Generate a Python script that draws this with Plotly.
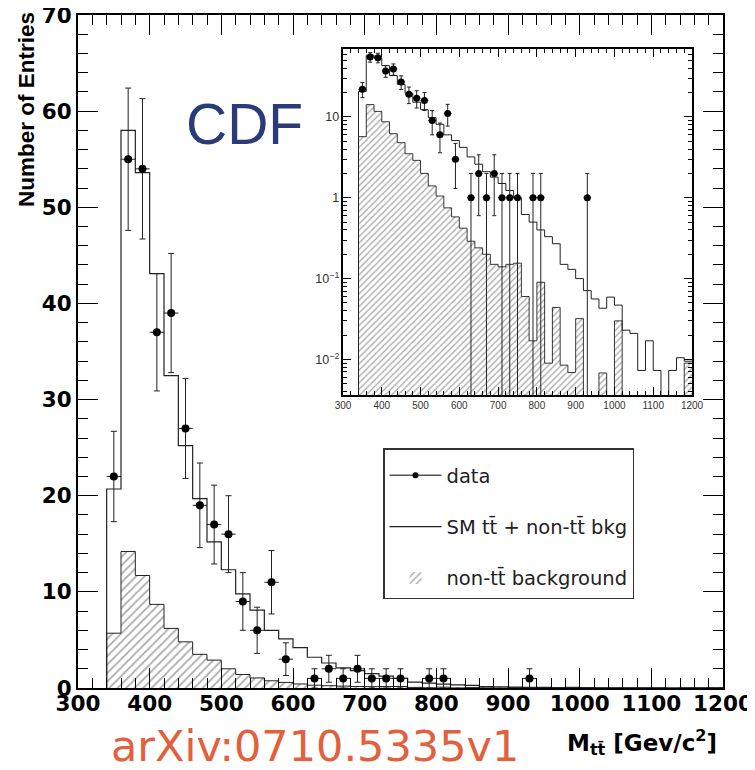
import plotly.graph_objects as go

# ---------------- data ----------------
BIN_W = 20
bin_lo_edges = list(range(340, 1200, BIN_W))  # 43 bins, 340..1200 GeV

sm_total = [20.7, 58.0, 53.6, 43.1, 32.5, 25.2, 19.7, 15.2, 12.3, 9.8,
            8.1, 6.0, 5.1, 4.2, 3.2, 2.6, 2.1, 1.8, 1.5, 1.23,
            1.0, 0.62, 0.5, 0.4, 0.33, 0.27, 0.15, 0.13, 0.1, 0.071,
            0.056, 0.043, 0.059, 0.047, 0.023, 0.021, 0.0073, 0.017, 0.0073, 0.0,
            0.0073, 0.0105, 0.0095]

bkg = [5.7, 14.2, 11.7, 8.7, 6.2, 4.8, 3.5, 2.9, 2.0, 1.4,
       1.05, 0.75, 0.58, 0.42, 0.29, 0.24, 0.2, 0.15, 0.14, 0.15,
       0.155, 0.06, 0.017, 0.09, 0.009, 0.044, 0.0085, 0.0069, 0.032, 0.0,
       0.0, 0.0068, 0.0, 0.030, 0.0, 0.0, 0.0, 0.0, 0.0, 0.0,
       0.0, 0.0, 0.009]

data_x = [350, 370, 390, 410, 430, 450, 470, 490, 510, 530, 550, 570, 590,
          630, 650, 670, 690, 710, 730, 750, 790, 810, 930]
data_n = [22, 55, 54, 37, 39, 27, 19, 17, 16, 9, 6, 11, 3,
          1, 2, 1, 2, 1, 1, 1, 1, 1, 1]
data_err = [4.7, 7.4, 7.3, 6.1, 6.2, 5.2, 4.4, 4.1, 4.0, 3.0, 2.4, 3.3, 1.7,
            1.0, 1.4, 1.0, 1.4, 1.0, 1.0, 1.0, 1.0, 1.0, 1.0]

x_ticks = [300, 400, 500, 600, 700, 800, 900, 1000, 1100, 1200]
y_ticks = [0, 10, 20, 30, 40, 50, 60, 70]

# ---------------- helpers ----------------
centers = [e + BIN_W / 2 for e in bin_lo_edges]
edges = bin_lo_edges + [bin_lo_edges[-1] + BIN_W]

def step_xy(vals, floor=0.0):
    v = [a if a > 0 else floor for a in vals]
    return [edges[0]] + edges, [floor] + v + [v[-1]]

hatch = dict(shape='/', fgcolor='#555555', bgcolor='white', size=6, solidity=0.3)

fig = go.Figure()

# ---------------- main plot ----------------
fig.add_trace(go.Bar(x=centers, y=bkg, width=BIN_W,
                     marker=dict(color='white', line=dict(width=0), pattern=hatch),
                     name='non-tt\u0304 background', legendgroup='c', legendrank=3,
                     xaxis='x', yaxis='y'))
sx, sy = step_xy(bkg)
fig.add_trace(go.Scatter(x=sx, y=sy, mode='lines', line=dict(color='#222', width=1, shape='hv'),
                         showlegend=False, hoverinfo='skip', xaxis='x', yaxis='y'))
sx, sy = step_xy(sm_total)
fig.add_trace(go.Scatter(x=sx, y=sy, mode='lines', line=dict(color='#222', width=1.2, shape='hv'),
                         name='SM tt\u0304 + non-tt\u0304 bkg', legendgroup='b', legendrank=2,
                         xaxis='x', yaxis='y'))
fig.add_trace(go.Scatter(x=data_x, y=data_n, mode='markers',
                         marker=dict(color='black', size=8),
                         error_y=dict(type='data', array=data_err, color='#222', thickness=1, width=3),
                         error_x=dict(type='constant', value=BIN_W / 2, color='#222', thickness=1, width=0),
                         showlegend=False, xaxis='x', yaxis='y'))
fig.add_trace(go.Scatter(x=[None], y=[None], mode='lines+markers',
                         line=dict(color='black', width=1), marker=dict(color='black', size=6),
                         name='data', legendgroup='a', legendrank=1, xaxis='x', yaxis='y'))

# ---------------- inset (log) ----------------
fig.add_trace(go.Bar(x=centers, y=[b if b > 0 else None for b in bkg], width=BIN_W,
                     marker=dict(color='white', line=dict(width=0),
                                 pattern=dict(shape='/', fgcolor='#555555', bgcolor='white', size=4.5, solidity=0.3)),
                     showlegend=False, xaxis='x2', yaxis='y2'))
sx, sy = step_xy(bkg, floor=1e-5)
fig.add_trace(go.Scatter(x=sx, y=sy, mode='lines', line=dict(color='#222', width=0.9, shape='hv'),
                         showlegend=False, hoverinfo='skip', xaxis='x2', yaxis='y2'))
sx, sy = step_xy(sm_total, floor=1e-5)
fig.add_trace(go.Scatter(x=sx, y=sy, mode='lines', line=dict(color='#222', width=1, shape='hv'),
                         showlegend=False, xaxis='x2', yaxis='y2'))
fig.add_trace(go.Scatter(x=data_x, y=data_n, mode='markers',
                         marker=dict(color='black', size=7),
                         error_y=dict(type='data', array=data_err, color='#222', thickness=1, width=2),
                         error_x=dict(type='constant', value=BIN_W / 2, color='#222', thickness=1, width=0),
                         showlegend=False, xaxis='x2', yaxis='y2'))

# ---------------- layout ----------------
# The page puts the figure 8px in from the top-left corner of the window.
OFF = 8
W, H = 755 - OFF, 770 - OFF
L, R, T, B = 78 - OFF, 32, 15 - OFF, 82
pw, ph = W - L - R, H - T - B

# helpers in window-pixel coordinates of the reference
def px(x):
    return (x - 78) / pw

def py(y):
    return (688 - y) / ph

tickfont_main = dict(family='DejaVu Sans', size=21.5, color='black', weight='bold')

fig.update_layout(
    width=W, height=H,
    margin=dict(l=L, r=R, t=T, b=B, autoexpand=False),
    paper_bgcolor='white', plot_bgcolor='white',
    font=dict(family='Liberation Sans', color='black'),
    bargap=0, barmode='overlay',
    xaxis=dict(range=[300, 1200], tickvals=x_ticks, ticks='inside', ticklen=20, tickwidth=1,
               tickcolor='black', showline=True, linewidth=2, linecolor='black', mirror='ticks',
               minor=dict(ticks='inside', ticklen=10, dtick=20, tick0=300, tickcolor='black', tickwidth=1),
               showgrid=False, zeroline=False, tickfont=tickfont_main, automargin=False,
               ticklabelstandoff=-5, ticklabeloverflow='allow'),
    yaxis=dict(range=[0, 70], tickvals=y_ticks, ticks='inside', ticklen=20, tickwidth=1,
               tickcolor='black', showline=True, linewidth=2, linecolor='black', mirror='ticks',
               minor=dict(ticks='inside', ticklen=10, dtick=2, tickcolor='black', tickwidth=1),
               showgrid=False, zeroline=False, tickfont=tickfont_main, automargin=False,
               ticklabeloverflow='allow'),
    xaxis2=dict(domain=[px(343), px(692)], anchor='y2', range=[300, 1200], tickvals=x_ticks,
                ticks='inside', ticklen=8, tickcolor='black', showline=True, linewidth=1.5,
                linecolor='black', mirror='ticks',
                minor=dict(ticks='inside', ticklen=4, dtick=20, tick0=300, tickcolor='black'),
                showgrid=False, zeroline=False, tickfont=dict(size=10, color='#333'), automargin=False),
    yaxis2=dict(domain=[py(395), py(49)], anchor='x2', type='log', range=[-2.44, 1.84], dtick=1,
                exponentformat='power', ticks='inside', ticklen=8, tickcolor='black', showline=True,
                linewidth=1.5, linecolor='black', mirror='ticks',
                minor=dict(ticks='inside', ticklen=4, tickcolor='black'),
                showgrid=False, zeroline=False, tickfont=dict(size=10, color='#333'), automargin=False),
    legend=dict(x=px(383), y=py(448), xanchor='left', yanchor='top',
                bgcolor='white', bordercolor='#333', borderwidth=1.5,
                font=dict(family='DejaVu Sans', size=19.5, color='#222'),
                title=dict(text=' ', font=dict(size=5)),
                traceorder='grouped', tracegroupgap=23, itemwidth=52),
    showlegend=True,
)

annotations = [
    dict(text='CDF', x=px(244), y=py(124), xanchor='center', yanchor='middle',
         font=dict(family='Liberation Sans', size=57, color='#2b3a78')),
    dict(text='arXiv:0710.5335v1', x=px(315), y=py(746), xanchor='center', yanchor='middle',
         font=dict(family='DejaVu Sans', size=43, color='#e2603c')),
    dict(text='Number of Entries', x=px(26), y=py(110), xanchor='center', yanchor='middle',
         textangle=-90, font=dict(family='Liberation Sans', size=22.5, color='black', weight='bold')),
    dict(text='M<sub>tt\u0304</sub> [Gev/c<sup>2</sup>]', x=px(719), y=py(742),
         xanchor='right', yanchor='middle',
         font=dict(family='DejaVu Sans', size=23, color='black', weight='bold')),
]
for a in annotations:
    a.update(xref='paper', yref='paper', showarrow=False)
fig.update_layout(annotations=annotations)

fig.write_html('out.html')
